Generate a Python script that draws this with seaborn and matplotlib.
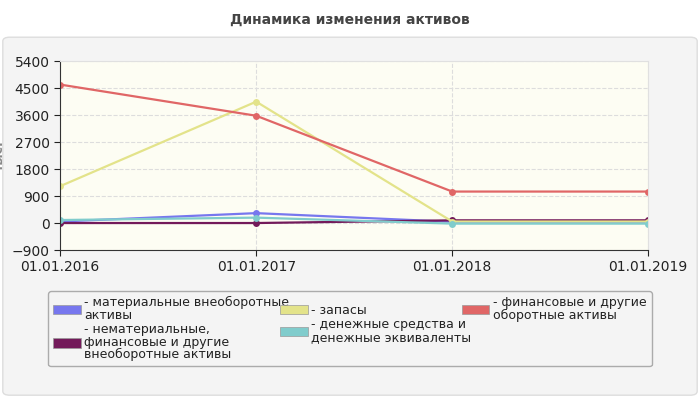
import numpy as np
import pandas as pd
import matplotlib.pyplot as plt
import seaborn as sns
from matplotlib.patches import FancyBboxPatch

dates = ["01.01.2016", "01.01.2017", "01.01.2018", "01.01.2019"]
series_names = [
    "материальные внеоборотные\nактивы",
    "нематериальные,\nфинансовые и другие\nвнеоборотные активы",
    "запасы",
    "денежные средства и\nденежные эквиваленты",
    "финансовые и другие\nоборотные активы",
]
material = [50, 330, 40, 40]
intangible = [0, 0, 90, 90]
stocks = [1230, 4050, 50, 50]
cash = [100, 180, -20, -20]
financial = [4620, 3580, 1050, 1050]
colors = ["#7777ee", "#731a5a", "#e3e38a", "#80cccc", "#e06666"]
yticks = [-900, 0, 900, 1800, 2700, 3600, 4500, 5400]

values = [material, intangible, stocks, cash, financial]
df = pd.DataFrame({
    "x": np.tile(np.arange(len(dates)), len(series_names)),
    "value": np.concatenate(values),
    "series": np.repeat(series_names, len(dates)),
})

fig = plt.figure(figsize=(7, 4), dpi=100)
fig.patch.set_facecolor("white")
panel = FancyBboxPatch((0.004, 0.012), 0.992, 0.895, boxstyle="round,pad=0,rounding_size=0.01",
                       transform=fig.transFigure, facecolor="#f4f4f4", edgecolor="#dddddd",
                       lw=1, zorder=-10)
fig.patches.append(panel)
fig.text(0.5, 0.95, "Динамика изменения активов", ha="center", va="center",
         fontsize=10, fontweight="bold", color="#444444")

ax = fig.add_axes([0.086, 0.375, 0.84, 0.472])
ax.set_facecolor("#fdfdf3")
sns.lineplot(data=df, x="x", y="value", hue="series", palette=colors, marker="o",
             markersize=5, markeredgewidth=0, linewidth=1.6, ax=ax, legend=False)
ax.set_xlim(0, 3)
ax.set_ylim(-900, 5400)
ax.set_yticks(yticks)
ax.set_xticks(range(len(dates)))
ax.set_xticklabels(dates)
ax.tick_params(labelsize=10, colors="#222222", length=4)
ax.grid(True, color="#dddddd", linestyle="--", linewidth=0.8)
ax.set_axisbelow(True)
for s in ["top", "right"]:
    ax.spines[s].set_color("#e0e0e0")
ax.spines["left"].set_color("#333333")
ax.spines["bottom"].set_color("#333333")
ax.set_xlabel("")
ax.set_ylabel("тыс.", color="#888888", fontsize=9, fontweight="bold", labelpad=4)

handles = [plt.Rectangle((0, 0), 1, 1, facecolor=c, edgecolor="#999999", lw=0.5) for c in colors]
labels = ["- " + n for n in series_names]
leg = fig.legend(handles, labels,
                 loc="upper left", bbox_to_anchor=(0.06, 0.045, 0.88, 0.2425), mode="expand",
                 ncol=3, fontsize=9, frameon=True, fancybox=True, edgecolor="#999999",
                 facecolor="#f4f4f4", handlelength=2.2, handleheight=0.8, borderpad=0.4,
                 labelspacing=0.1, handletextpad=0.3, columnspacing=1.0)
for t in leg.get_texts():
    t.set_color("#222222")
    t.set_linespacing(0.95)

fig.savefig("out.png", dpi=100)
